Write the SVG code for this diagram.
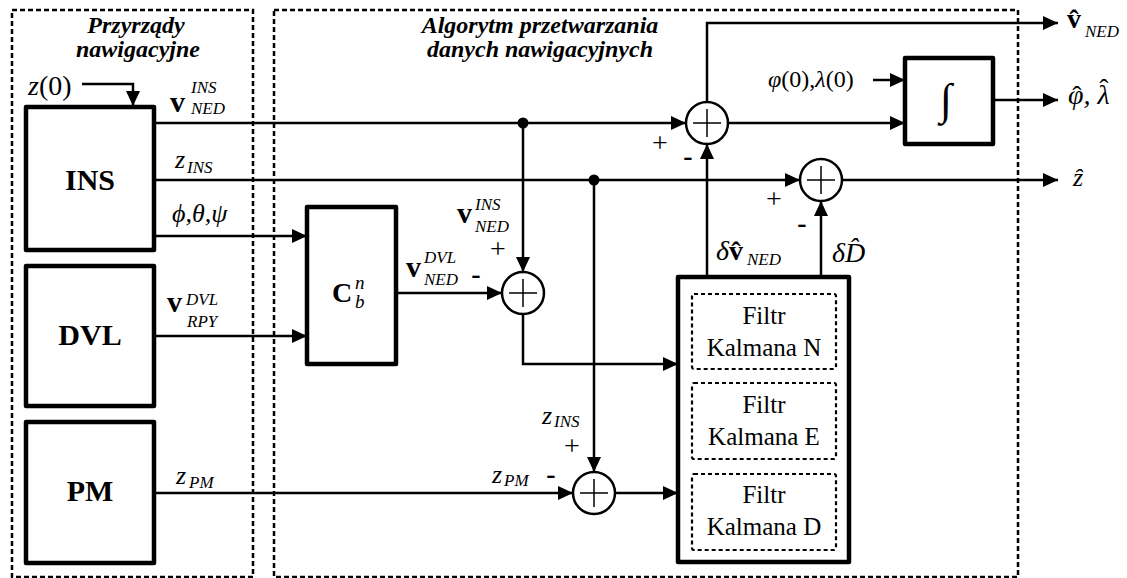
<svg xmlns="http://www.w3.org/2000/svg" width="1127" height="578" viewBox="0 0 1127 578">
<style>
text{font-family:"Liberation Serif","Times New Roman",serif;fill:#000}
.title{font-size:24px;font-weight:bold;font-style:italic;text-anchor:middle}
.blk{font-size:30px;font-weight:bold;text-anchor:middle}
.kf{font-size:25px;text-anchor:middle}
.m{font-size:26px;font-style:italic}
.vb{font-size:30px;font-weight:bold}
.s{font-size:17px;font-style:italic}
.pm{font-size:28px;text-anchor:middle}
.mn{font-size:28px;font-weight:bold;text-anchor:middle}
.hat{font-size:28px;text-anchor:middle}
.box{fill:#fff;stroke:#000;stroke-width:4.5;stroke-linejoin:round}
.dash{fill:none;stroke:#000;stroke-width:2.5;stroke-dasharray:5,3}
.idash{fill:none;stroke:#000;stroke-width:2.2;stroke-dasharray:4,3}
.sum{fill:#fff;stroke:#000;stroke-width:2.5}
.cross{stroke:#000;stroke-width:1.5}
.wa{fill:none;stroke:#000;stroke-width:2.5;marker-end:url(#ah)}
</style>
<defs>
<marker id="ah" markerUnits="userSpaceOnUse" markerWidth="16" markerHeight="14" refX="15" refY="7" orient="auto">
<path d="M0,0 L15,7 L0,14 z" fill="#000"/>
</marker>
</defs>
<rect width="1127" height="578" fill="#fff"/>

<g id="frames">
<rect class="dash" x="12" y="10" width="241" height="567"/>
<rect class="dash" x="274" y="10" width="744" height="567"/>
<text class="title" x="136" y="33">Przyrządy</text>
<text class="title" x="138" y="57">nawigacyjne</text>
<text class="title" x="540" y="33">Algorytm przetwarzania</text>
<text class="title" x="540" y="57">danych nawigacyjnych</text>
</g>

<g id="connectors">
<path class="wa" d="M82,84 H133 V106"/>
<path class="wa" d="M156,123 H686"/>
<path class="wa" d="M523,123 V272"/>
<path class="wa" d="M707,102 V23 H1058"/>
<path class="wa" d="M728,123 H905"/>
<path class="wa" d="M873,80 H905"/>
<path class="wa" d="M993,100 H1058"/>
<path class="wa" d="M156,180 H800"/>
<path class="wa" d="M594,180 V472"/>
<path class="wa" d="M842,180 H1058"/>
<path class="wa" d="M156,236 H307"/>
<path class="wa" d="M156,336 H307"/>
<path class="wa" d="M396,293 H502"/>
<path class="wa" d="M523,314 V364 H678"/>
<path class="wa" d="M156,493 H573"/>
<path class="wa" d="M615,493 H678"/>
<path class="wa" d="M707,277 V144"/>
<path class="wa" d="M821,277 V201"/>
<circle cx="523" cy="123" r="5.5" fill="#000"/>
<circle cx="594" cy="180" r="5.5" fill="#000"/>
</g>

<g id="ins">
<rect class="box" x="26" y="107" width="128" height="143"/>
<text class="blk" x="90" y="190">INS</text>
</g>
<g id="dvl">
<rect class="box" x="26" y="266" width="128" height="140"/>
<text class="blk" x="90" y="345">DVL</text>
</g>
<g id="pm">
<rect class="box" x="26" y="422" width="128" height="141"/>
<text class="blk" x="90" y="501">PM</text>
</g>

<g id="cbn">
<rect class="box" x="307" y="207" width="89" height="157"/>
<text x="332" y="302" style="font-size:28px;font-weight:bold">C</text>
<text class="s" x="355" y="289" style="font-size:19px">n</text>
<text class="s" x="355" y="308" style="font-size:19px">b</text>
</g>

<g id="integrator">
<rect class="box" x="905" y="58" width="88" height="86"/>
<text x="946" y="114" style="font-size:44px;text-anchor:middle">∫</text>
</g>

<g id="kalman">
<rect class="box" x="678" y="277" width="171" height="285"/>
<rect class="idash" x="692" y="294" width="144" height="75" rx="2"/>
<rect class="idash" x="692" y="383" width="144" height="76" rx="2"/>
<rect class="idash" x="692" y="474" width="144" height="76" rx="2"/>
<text class="kf" x="764" y="324">Filtr</text>
<text class="kf" x="764" y="356">Kalmana N</text>
<text class="kf" x="764" y="413">Filtr</text>
<text class="kf" x="764" y="445">Kalmana E</text>
<text class="kf" x="764" y="503">Filtr</text>
<text class="kf" x="764" y="535">Kalmana D</text>
</g>

<g id="sum_top">
<circle class="sum" cx="707" cy="123" r="21"/>
<path class="cross" d="M693,123 H721 M707,109 V137"/>
<text class="pm" x="660" y="152">+</text>
<text class="mn" x="688" y="165">-</text>
</g>
<g id="sum_z">
<circle class="sum" cx="821" cy="180" r="21"/>
<path class="cross" d="M807,180 H835 M821,166 V194"/>
<text class="pm" x="774" y="208">+</text>
<text class="mn" x="802" y="232">-</text>
</g>
<g id="sum_mid">
<circle class="sum" cx="523" cy="293" r="21"/>
<path class="cross" d="M509,293 H537 M523,279 V307"/>
<text class="pm" x="498" y="258">+</text>
<text class="mn" x="476" y="283">-</text>
</g>
<g id="sum_bot">
<circle class="sum" cx="594" cy="493" r="21"/>
<path class="cross" d="M580,493 H608 M594,479 V507"/>
<text class="pm" x="572" y="455">+</text>
<text class="mn" x="551" y="483">-</text>
</g>

<g id="labels">
<text class="m" x="28" y="95" style="font-size:28px"><tspan>z</tspan><tspan font-style="normal">(0)</tspan></text>
<text class="vb" x="170" y="112">v</text>
<text class="s" x="191" y="93">INS</text>
<text class="s" x="191" y="114">NED</text>
<text class="m" x="175" y="168">z</text>
<text class="s" x="187" y="173">INS</text>
<text class="m" x="172" y="222">ϕ,θ,ψ</text>
<text class="vb" x="167" y="312">v</text>
<text class="s" x="186" y="305">DVL</text>
<text class="s" x="187" y="327">RPY</text>
<text class="m" x="176" y="484">z</text>
<text class="s" x="189" y="488">PM</text>

<text class="vb" x="457" y="223">v</text>
<text class="s" x="475" y="210">INS</text>
<text class="s" x="475" y="232">NED</text>
<text class="vb" x="406" y="277">v</text>
<text class="s" x="424" y="263">DVL</text>
<text class="s" x="424" y="285">NED</text>

<text class="m" x="542" y="424">z</text>
<text class="s" x="554" y="427">INS</text>
<text class="m" x="492" y="483">z</text>
<text class="s" x="504" y="486">PM</text>

<text x="768" y="87" style="font-size:24px"><tspan font-style="italic">φ</tspan>(0),<tspan font-style="italic">λ</tspan>(0)</text>

<text x="716" y="260" style="font-size:28px"><tspan font-style="italic">δ</tspan><tspan font-weight="bold">v̂</tspan></text>
<text class="s" x="747" y="265">NED</text>
<text x="832" y="262" style="font-size:28px;font-style:italic">δD̂</text>

<text x="1067" y="28" style="font-size:28px;font-weight:bold">v̂</text>
<text class="s" x="1085" y="37">NED</text>
<text x="1068" y="104" style="font-size:28px;font-style:italic">φ, λ</text>
<text class="hat" x="1077" y="105">ˆ</text>
<text class="hat" x="1104" y="98">ˆ</text>
<text class="m" x="1073" y="186">ẑ</text>
</g>
</svg>
